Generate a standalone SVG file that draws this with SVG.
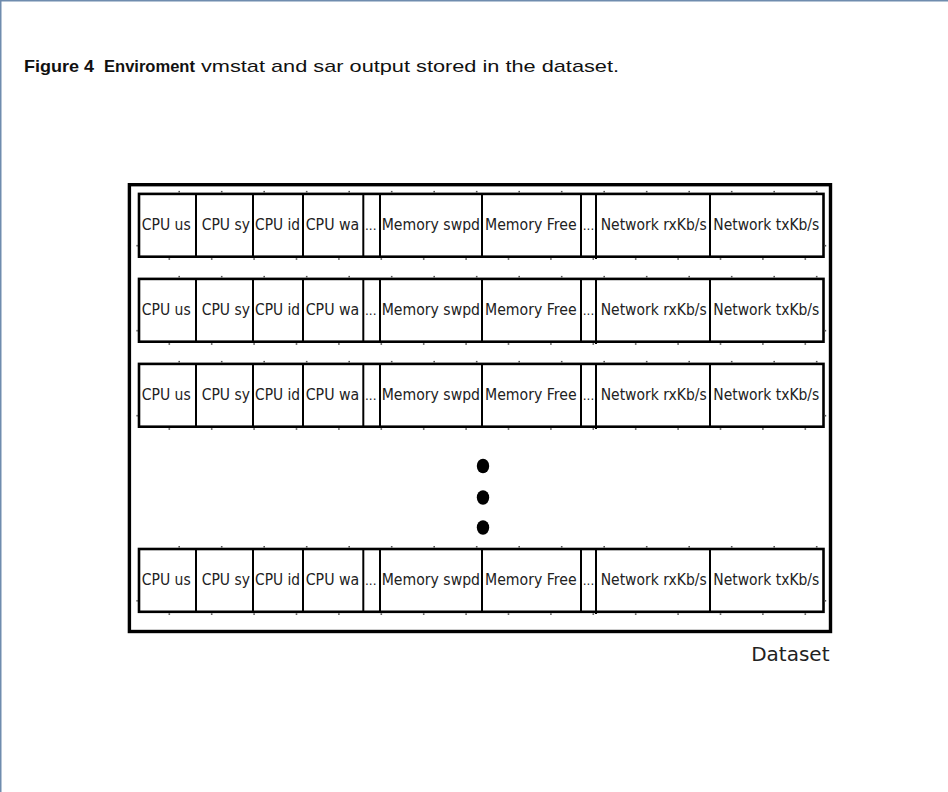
<svg xmlns="http://www.w3.org/2000/svg" xmlns:xlink="http://www.w3.org/1999/xlink" width="948" height="792" viewBox="0 0 948 792">
  <style>
    .frame { stroke: #6f8cae; stroke-width: 1.5; fill: none; }
    .cap { font-family: "Liberation Sans", "DejaVu Sans", sans-serif; font-size: 17px; fill: #111; }
    .capb { font-weight: bold; }
    .outer { fill: none; stroke: #000; stroke-width: 3.4; }
    .rec { fill: #fff; stroke: #000; stroke-width: 2.6; }
    .div { stroke: #000; stroke-width: 2; }
    .cell { font-family: "DejaVu Sans", "Liberation Sans", sans-serif; font-size: 15.5px; fill: #222; }
    .ell { font-size: 12px; }
    .pt { fill: #555; }
    .label { font-family: "DejaVu Sans", "Liberation Sans", sans-serif; font-size: 20px; fill: #222; text-anchor: end; }
  </style>
  <defs>
    <!-- one record: ten fields in a bordered strip, origin at the strip's top-left -->
    <g id="record">
      <rect class="rec" x="139" y="0" width="684.5" height="62.8"/>
      <g class="div">
        <line x1="196" y1="0" x2="196" y2="62.8"/>
        <line x1="253" y1="0" x2="253" y2="62.8"/>
        <line x1="303" y1="0" x2="303" y2="62.8"/>
        <line x1="363.3" y1="0" x2="363.3" y2="62.8"/>
        <line x1="380" y1="0" x2="380" y2="62.8"/>
        <line x1="482" y1="0" x2="482" y2="62.8"/>
        <line x1="581" y1="0" x2="581" y2="62.8"/>
        <line x1="596" y1="0" x2="596" y2="65"/>
        <line x1="710" y1="0" x2="710" y2="62.8"/>
      </g>
      <g class="cell">
        <text x="141.7" y="36.2" textLength="49" lengthAdjust="spacingAndGlyphs">CPU us</text>
        <text x="201.7" y="36.2" textLength="48.3" lengthAdjust="spacingAndGlyphs">CPU sy</text>
        <text x="255" y="36.2" textLength="45" lengthAdjust="spacingAndGlyphs">CPU id</text>
        <text x="305.7" y="36.2" textLength="53.6" lengthAdjust="spacingAndGlyphs">CPU wa</text>
        <text class="ell" x="365" y="36.2">...</text>
        <text x="381.7" y="36.2" textLength="98.3" lengthAdjust="spacingAndGlyphs">Memory swpd</text>
        <text x="485" y="36.2" textLength="91.7" lengthAdjust="spacingAndGlyphs">Memory Free</text>
        <text class="ell" x="582.8" y="36.2">...</text>
        <text x="600.7" y="36.2" textLength="106" lengthAdjust="spacingAndGlyphs">Network rxKb/s</text>
        <text x="713.3" y="36.2" textLength="106" lengthAdjust="spacingAndGlyphs">Network txKb/s</text>
      </g>
      <!-- connection points along the strip edges -->
      <g class="pt">
        <rect x="178.4" y="-3" width="1.6" height="1.6"/>
        <rect x="220.9" y="-3" width="1.6" height="1.6"/>
        <rect x="263.4" y="-3" width="1.6" height="1.6"/>
        <rect x="305.9" y="-3" width="1.6" height="1.6"/>
        <rect x="348.4" y="-3" width="1.6" height="1.6"/>
        <rect x="390.9" y="-3" width="1.6" height="1.6"/>
        <rect x="433.4" y="-3" width="1.6" height="1.6"/>
        <rect x="475.9" y="-3" width="1.6" height="1.6"/>
        <rect x="518.4" y="-3" width="1.6" height="1.6"/>
        <rect x="560.9" y="-3" width="1.6" height="1.6"/>
        <rect x="603.4" y="-3" width="1.6" height="1.6"/>
        <rect x="645.9" y="-3" width="1.6" height="1.6"/>
        <rect x="688.4" y="-3" width="1.6" height="1.6"/>
        <rect x="730.9" y="-3" width="1.6" height="1.6"/>
        <rect x="773.4" y="-3" width="1.6" height="1.6"/>
        <rect x="815.9" y="-3" width="1.6" height="1.6"/>
        <rect x="168.5" y="64.3" width="1.6" height="1.6"/>
        <rect x="210.9" y="64.3" width="1.6" height="1.6"/>
        <rect x="253.3" y="64.3" width="1.6" height="1.6"/>
        <rect x="295.7" y="64.3" width="1.6" height="1.6"/>
        <rect x="338.1" y="64.3" width="1.6" height="1.6"/>
        <rect x="380.5" y="64.3" width="1.6" height="1.6"/>
        <rect x="422.9" y="64.3" width="1.6" height="1.6"/>
        <rect x="465.3" y="64.3" width="1.6" height="1.6"/>
        <rect x="507.7" y="64.3" width="1.6" height="1.6"/>
        <rect x="550.1" y="64.3" width="1.6" height="1.6"/>
        <rect x="592.5" y="64.3" width="1.6" height="1.6"/>
        <rect x="634.9" y="64.3" width="1.6" height="1.6"/>
        <rect x="677.3" y="64.3" width="1.6" height="1.6"/>
        <rect x="719.7" y="64.3" width="1.6" height="1.6"/>
        <rect x="762.1" y="64.3" width="1.6" height="1.6"/>
        <rect x="804.5" y="64.3" width="1.6" height="1.6"/>
        <rect x="136.4" y="51" width="1.6" height="1.6"/>
        <rect x="824.6" y="51" width="1.6" height="1.6"/>
      </g>
    </g>
  </defs>

  <rect width="948" height="792" fill="#fff"/>
  <!-- page frame -->
  <line class="frame" x1="0.75" y1="0" x2="0.75" y2="792"/>
  <line class="frame" x1="0" y1="0.75" x2="948" y2="0.75"/>

  <!-- caption -->
  <g id="caption" class="cap">
    <text class="capb" x="24" y="72" textLength="70" lengthAdjust="spacingAndGlyphs">Figure 4</text>
    <text class="capb" x="104" y="72" textLength="91" lengthAdjust="spacingAndGlyphs">Enviroment</text>
    <text x="201" y="72" textLength="418" lengthAdjust="spacingAndGlyphs">vmstat and sar output stored in the dataset.</text>
  </g>

  <!-- dataset container -->
  <g id="dataset">
    <rect class="outer" x="129.4" y="184.7" width="701.1" height="446.8"/>
    <text class="label" x="829.5" y="661">Dataset</text>
  </g>

  <g id="row1"><use xlink:href="#record" transform="translate(0,193.9)"/></g>
  <g id="row2"><use xlink:href="#record" transform="translate(0,278.9)"/></g>
  <g id="row3"><use xlink:href="#record" transform="translate(0,363.9)"/></g>

  <!-- vertical ellipsis between listed records -->
  <g id="more">
    <ellipse cx="483" cy="466" rx="6.2" ry="7.3" fill="#000"/>
    <ellipse cx="483" cy="497.5" rx="6.2" ry="7.3" fill="#000"/>
    <ellipse cx="483" cy="527.5" rx="6.2" ry="7.3" fill="#000"/>
  </g>

  <g id="row4"><use xlink:href="#record" transform="translate(0,549)"/></g>

  <g id="connectors"></g>
</svg>
